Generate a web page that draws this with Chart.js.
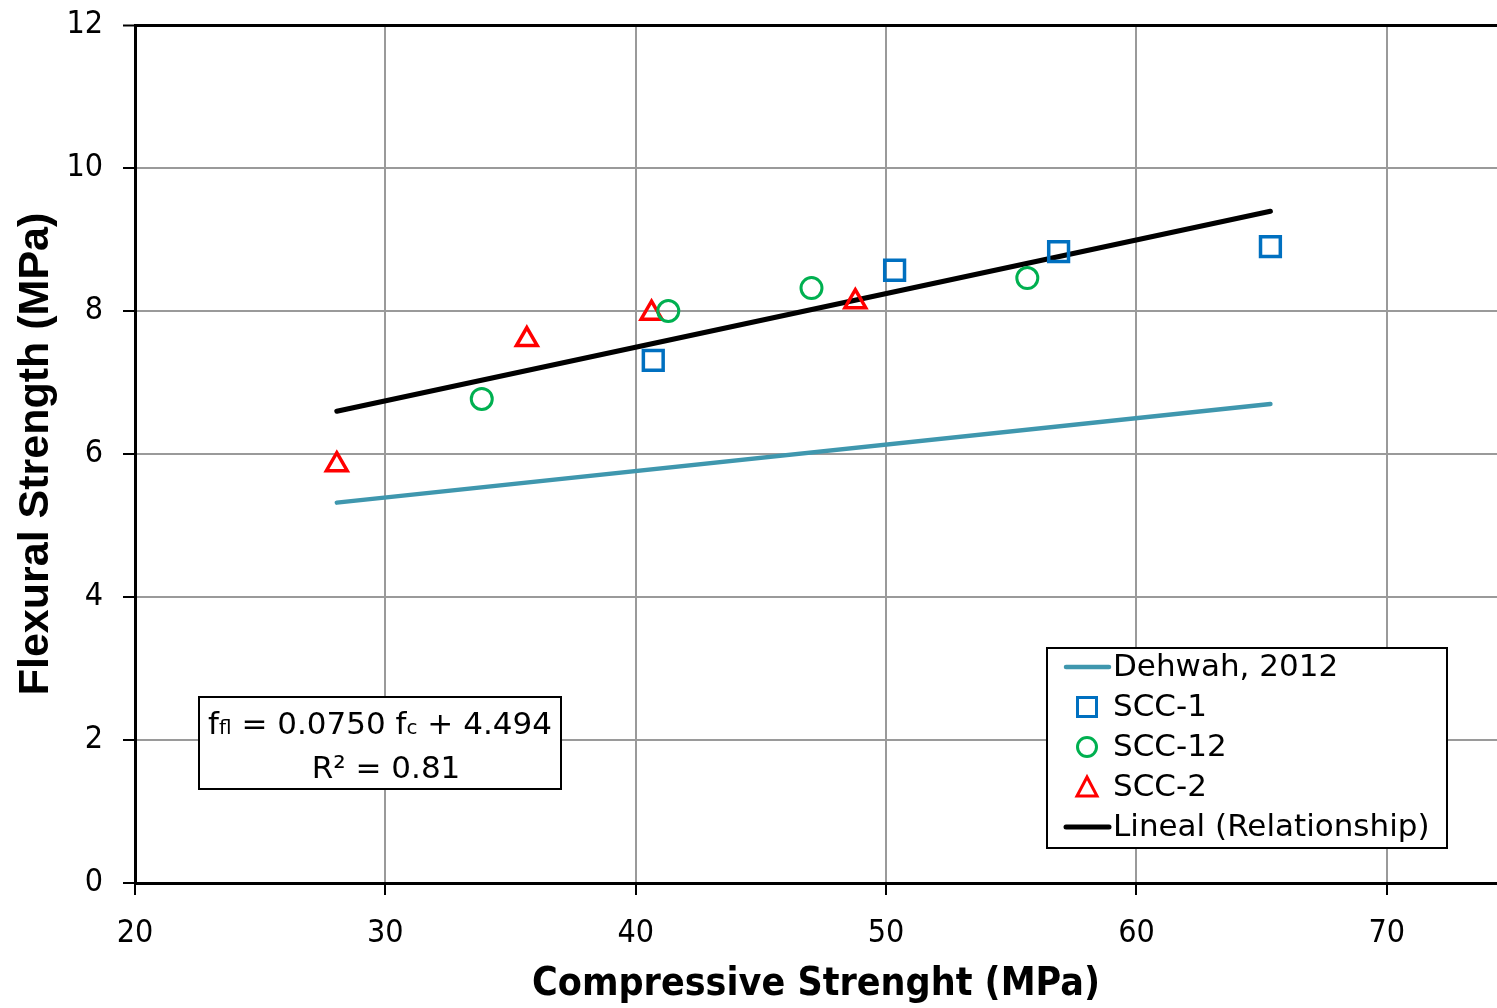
<!DOCTYPE html>
<html>
<head>
<meta charset="utf-8">
<script src="https://cdn.jsdelivr.net/npm/chart.js@4.4.0/dist/chart.umd.min.js"></script>
<style>
  body { margin: 0; background: #fff; }
  #wrap { width: 1497px; height: 1008px; }
</style>
</head>
<body>
<div id="wrap"><canvas id="strength" width="1497" height="1008"></canvas></div>
<script>
// Flexural vs compressive strength, three SCC mixes
const scc1X = [40.70, 50.34, 56.89, 65.35];
const scc1Y = [7.31, 8.57, 8.83, 8.90];
const scc12X = [33.85, 41.30, 47.02, 55.64];
const scc12Y = [6.77, 8.00, 8.32, 8.46];
const scc2X = [28.06, 35.65, 40.63, 48.77];
const scc2Y = [5.85, 7.60, 7.97, 8.13];

// Dehwah (2012) relation over the tested range
const dehwahX = [28.06, 65.35];
const dehwahY = [5.32, 6.70];

// fitted line f_fl = 0.0750 f_c + 4.494
const trendSlope = 0.0750;
const trendIntercept = 4.494;
const trendX = [28.06, 65.35];
const r2 = 0.81;

const xTicks = [20, 30, 40, 50, 60, 70];
const yTicks = [0, 2, 4, 6, 8, 10, 12];

const seriesNames = ["Dehwah, 2012", "SCC-1", "SCC-12", "SCC-2", "Lineal (Relationship)"];

const FONT = "'DejaVu Sans Condensed', 'DejaVu Sans', sans-serif";
const BOXFONT = "'DejaVu Sans', sans-serif";
const GRID = "#9a9a9a";

function toPoints(xs, ys) {
    return xs.map((x, i) => ({ x: x, y: ys[i] }));
}

const trendPoints = trendX.map(x => ({ x: x, y: trendSlope * x + trendIntercept }));

// legend and equation box, drawn on top of the plot
const boxes = {
    id: "boxes",
    afterDraw(chart) {
        const ctx = chart.ctx;
        ctx.save();

        // equation box
        ctx.fillStyle = "#fff";
        ctx.fillRect(199, 697, 362, 92);
        ctx.strokeStyle = "#000";
        ctx.lineWidth = 2;
        ctx.strokeRect(199, 697, 362, 92);

        const big = "31px " + BOXFONT;
        const small = "20px " + BOXFONT;
        const parts = [
            ["f", big], ["fl", small], [" = " + trendSlope.toFixed(4) + " f", big],
            ["c", small], [" + " + trendIntercept.toFixed(3), big]
        ];
        let total = 0;
        parts.forEach(p => { ctx.font = p[1]; total += ctx.measureText(p[0]).width; });
        let x = 380 - total / 2;
        ctx.fillStyle = "#000";
        ctx.textBaseline = "alphabetic";
        ctx.textAlign = "left";
        parts.forEach(p => {
            ctx.font = p[1];
            ctx.fillText(p[0], x, 734);
            x += ctx.measureText(p[0]).width;
        });
        ctx.font = big;
        ctx.textAlign = "center";
        ctx.fillText("R\u00B2 = " + r2.toFixed(2), 386, 778);

        // legend
        ctx.fillStyle = "#fff";
        ctx.fillRect(1047, 648, 400, 200);
        ctx.strokeRect(1047, 648, 400, 200);

        ctx.textAlign = "left";
        ctx.textBaseline = "middle";
        chart.data.datasets.forEach((ds, i) => {
            const cy = 667 + i * 40;
            const cx = 1087;
            ctx.strokeStyle = ds.borderColor;
            if (ds.showLine) {
                ctx.lineWidth = ds.borderWidth;
                ctx.lineCap = "round";
                ctx.beginPath();
                ctx.moveTo(1066, cy);
                ctx.lineTo(1109, cy);
                ctx.stroke();
            } else {
                ctx.lineWidth = 3;
                ctx.beginPath();
                if (ds.pointStyle === "rect") {
                    ctx.rect(cx - 9.5, cy - 9.5, 19, 19);
                } else if (ds.pointStyle === "circle") {
                    ctx.arc(cx, cy, 9.5, 0, Math.PI * 2);
                } else {
                    ctx.moveTo(cx, cy - 10);
                    ctx.lineTo(cx + 10, cy + 9);
                    ctx.lineTo(cx - 10, cy + 9);
                    ctx.closePath();
                }
                ctx.stroke();
            }
            ctx.fillStyle = "#000";
            ctx.font = big;
            ctx.fillText(ds.label, 1113, cy + 1);
        });
        ctx.restore();
    }
};

const context = document.getElementById("strength").getContext("2d");
const chart = new Chart(context, {
    type: "scatter",
    data: {
        datasets: [{
            label: seriesNames[0],
            data: toPoints(dehwahX, dehwahY),
            showLine: true,
            borderColor: "#3f97ae",
            borderWidth: 4.5,
            borderCapStyle: "round",
            pointRadius: 0
        }, {
            label: seriesNames[1],
            data: toPoints(scc1X, scc1Y),
            pointStyle: "rect",
            pointRadius: 14,
            borderColor: "#0070c0",
            backgroundColor: "rgba(0,0,0,0)",
            pointBorderWidth: 3.5
        }, {
            label: seriesNames[2],
            data: toPoints(scc12X, scc12Y),
            pointStyle: "circle",
            pointRadius: 10.5,
            borderColor: "#00b050",
            backgroundColor: "rgba(0,0,0,0)",
            pointBorderWidth: 3
        }, {
            label: seriesNames[3],
            data: toPoints(scc2X, scc2Y),
            pointStyle: "triangle",
            pointRadius: 12,
            borderColor: "#ff0000",
            backgroundColor: "rgba(0,0,0,0)",
            pointBorderWidth: 3.5
        }, {
            label: seriesNames[4],
            data: trendPoints,
            showLine: true,
            borderColor: "#000",
            borderWidth: 5,
            borderCapStyle: "round",
            pointRadius: 0
        }]
    },
    options: {
        responsive: false,
        animation: false,
        layout: { autoPadding: false, padding: { top: 25, right: 0, left: 0, bottom: 0 } },
        plugins: {
            legend: { display: false },
            tooltip: { enabled: false }
        },
        scales: {
            x: {
                type: "linear",
                min: 20,
                max: 74.4,
                afterBuildTicks: s => { s.ticks = xTicks.map(v => ({ value: v })); },
                afterFit: s => { s.height = 125; s.paddingLeft = 0; s.paddingRight = 0; },
                grid: { color: GRID, lineWidth: 2, tickColor: "#000", tickWidth: 2, tickLength: 12 },
                border: { color: "#000", width: 3 },
                ticks: { color: "#000", font: { family: FONT, size: 32 }, padding: 19, maxRotation: 0, autoSkip: false },
                title: {
                    display: true,
                    text: "Compressive Strenght (MPa)",
                    color: "#000",
                    font: { family: FONT, size: 39, weight: "bold" },
                    padding: { top: 0, bottom: 0 }
                }
            },
            y: {
                min: 0,
                max: 12,
                afterBuildTicks: s => { s.ticks = yTicks.map(v => ({ value: v })); },
                afterFit: s => { s.width = 135; s.paddingTop = 0; s.paddingBottom = 0; },
                grid: {
                    color: c => (c.tick && c.tick.value === 12 ? "#000" : GRID),
                    lineWidth: c => (c.tick && c.tick.value === 12 ? 3 : 2),
                    tickColor: "#000",
                    tickWidth: 2,
                    tickLength: 12
                },
                border: { color: "#000", width: 3 },
                ticks: { color: "#000", font: { family: FONT, size: 32 }, padding: 20 },
                title: {
                    display: true,
                    text: "Flexural Strength (MPa)",
                    color: "#000",
                    font: { family: "'Liberation Sans', Arial, sans-serif", size: 43, weight: "bold" },
                    padding: { top: 10, bottom: 0 }
                }
            }
        }
    },
    plugins: [boxes]
});
</script>
</body>
</html>
